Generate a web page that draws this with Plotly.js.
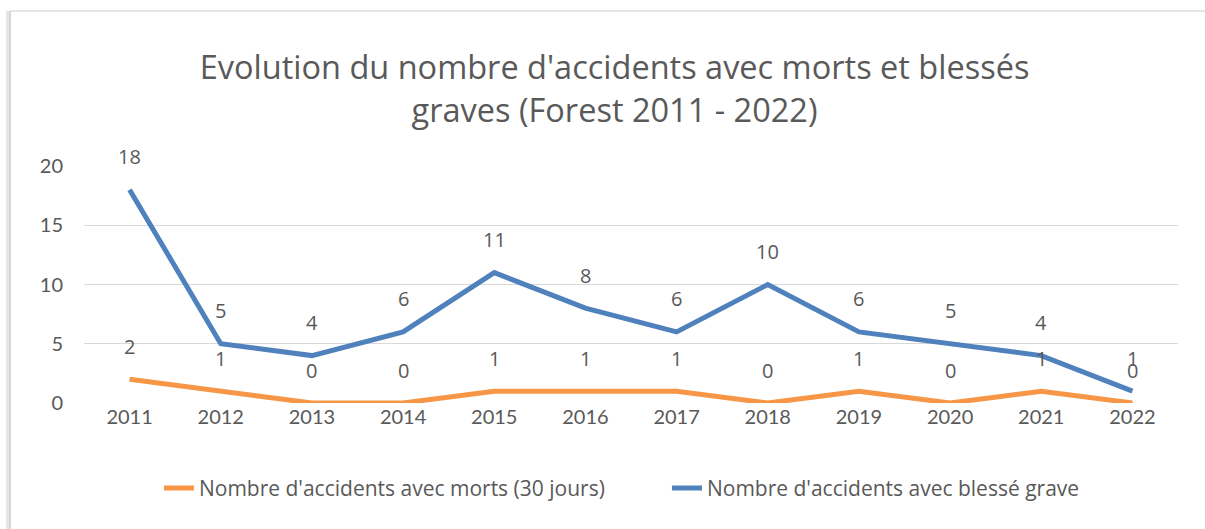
<!DOCTYPE html>
<html>
<head>
<meta charset="utf-8">
<script src="https://cdn.plot.ly/plotly-3.0.1.min.js"></script>
<style>
html,body{margin:0;padding:0;background:#fff;}
#chart{width:1205px;height:529px;}
</style>
</head>
<body>
<div id="chart"></div>
<script>
const years = ["2011","2012","2013","2014","2015","2016","2017","2018","2019","2020","2021","2022"];
const morts = [2,1,0,0,1,1,1,0,1,0,1,0];
const blesses = [18,5,4,6,11,8,6,10,6,5,4,1];
const nameMorts = "Nombre d'accidents avec morts (30 jours)";
const nameBlesses = "Nombre d'accidents avec blessé grave";
const titleText = "Evolution du nombre d'accidents avec morts et blessés<br>graves (Forest 2011 - 2022)";

const font = "Lato, 'Open Sans', sans-serif";
const wideFont = "'Open Sans', Lato, sans-serif";
const grey = "#595959";
const orange = "#F79646";
const blue = "#4F81BD";

const traces = [
  {x: years, y: morts, type: "scatter", mode: "lines", name: nameMorts,
   line: {color: orange, width: 5}},
  {x: years, y: blesses, type: "scatter", mode: "lines", name: nameBlesses,
   line: {color: blue, width: 5}}
];

const annotations = [];
function addLabels(vals){
  vals.forEach((v,i)=>{
    annotations.push({x: i, y: v, xref: "x", yref: "y", text: String(v),
      showarrow: false, yshift: 33, font: {family: wideFont, size: 20, color: grey}});
  });
}
addLabels(blesses);
addLabels(morts);

const layout = {
  width: 1205, height: 529,
  margin: {l: 84, r: 27, t: 166, b: 126},
  paper_bgcolor: "#fff", plot_bgcolor: "#fff",
  font: {family: font, color: grey, size: 20},
  title: {text: titleText, font: {family: wideFont, size: 32.5, color: grey},
          x: 0.51, xanchor: "center", y: 0.85, yanchor: "middle"},
  xaxis: {type: "category", range: [-0.5, 11.5], showgrid: false, zeroline: false,
          showline: false, ticks: "", tickfont: {size: 20, color: grey, family: font}},
  yaxis: {range: [0, 20], dtick: 5, showgrid: true, gridcolor: "#d9d9d9", gridwidth: 1.3,
          zeroline: false, showline: false, ticks: "", ticklabelstandoff: 20,
          tickfont: {size: 20, color: grey, family: font}},
  showlegend: true,
  legend: {orientation: "h", x: 0.0685, xanchor: "left", y: -0.36, yanchor: "middle",
           font: {size: 21, color: grey, family: wideFont}, entrywidth: 463, entrywidthmode: "pixels",
           bgcolor: "rgba(0,0,0,0)"},
  annotations: annotations,
  shapes: [
    {type: "line", xref: "paper", yref: "paper", x0: -0.0695, x1: -0.0695, y0: 1.654, y1: -0.6,
     line: {color: "#e6e6e6", width: 4}},
    {type: "line", xref: "paper", yref: "paper", x0: -0.0676, x1: 1.03, y0: 1.654, y1: 1.654,
     line: {color: "#e6e6e6", width: 2}},
    {type: "line", xref: "paper", yref: "paper", x0: -0.0676, x1: -0.0676, y0: 1.654, y1: -0.6,
     line: {color: "#cfcfcf", width: 1.5}}
  ]
};

Plotly.newPlot("chart", traces, layout, {displayModeBar: false, responsive: false});
</script>
</body>
</html>
